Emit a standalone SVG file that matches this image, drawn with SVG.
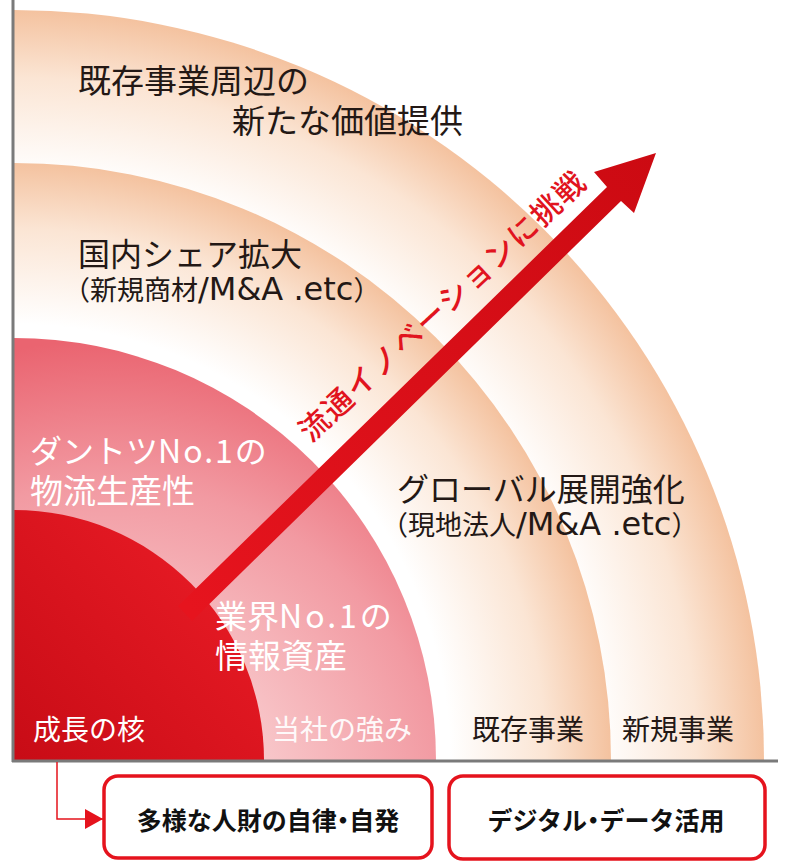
<svg xmlns="http://www.w3.org/2000/svg" width="800" height="863" viewBox="0 0 800 863">
<defs>
<radialGradient id="gPeach4" gradientUnits="userSpaceOnUse" cx="14" cy="760" r="750">
<stop offset="0" stop-color="#ffffff"/>
<stop offset="0.78" stop-color="#ffffff"/>
<stop offset="0.91" stop-color="#fbe5d4"/>
<stop offset="1" stop-color="#f4c29f"/>
</radialGradient>
<radialGradient id="gPeach3" gradientUnits="userSpaceOnUse" cx="14" cy="760" r="597">
<stop offset="0" stop-color="#ffffff"/>
<stop offset="0.73" stop-color="#ffffff"/>
<stop offset="0.89" stop-color="#fbe5d4"/>
<stop offset="1" stop-color="#f4c29f"/>
</radialGradient>
<radialGradient id="gPink" gradientUnits="userSpaceOnUse" cx="110" cy="820" r="480">
<stop offset="0.35" stop-color="#f8c6c9"/>
<stop offset="0.7" stop-color="#f29aa2"/>
<stop offset="1" stop-color="#ea6470"/>
</radialGradient>
<linearGradient id="gRed" gradientUnits="userSpaceOnUse" x1="230" y1="560" x2="20" y2="760">
<stop offset="0" stop-color="#e81b25"/>
<stop offset="1" stop-color="#c80c16"/>
</linearGradient>
<linearGradient id="gArrow" gradientUnits="userSpaceOnUse" x1="190" y1="610" x2="656" y2="153">
<stop offset="0" stop-color="#e6141e"/>
<stop offset="1" stop-color="#cc0a12"/>
</linearGradient>
<marker id="mArrow" markerUnits="userSpaceOnUse" markerWidth="19" markerHeight="20" refX="18" refY="10" orient="auto">
<path d="M0,0 L18,10 L0,20 z" fill="#e5131d"/>
</marker>
<style>
.lbl{font-family:"Noto Sans CJK JP","Noto Sans",sans-serif;fill:#231815;}
.big{font-size:32px;}
.big33{font-size:33px;}
.sub{font-size:27px;}
.lat{font-family:"DejaVu Sans",sans-serif;font-size:32px;}
.wht{fill:#ffffff;}
.base{font-size:28px;}
.box{fill:#ffffff;stroke:#e5131d;stroke-width:3.5;}
.boxt{font-family:"Noto Sans CJK JP","Noto Sans",sans-serif;font-size:25px;font-weight:700;fill:#111111;text-anchor:middle;}
.half{font-feature-settings:"halt";}
</style>
</defs>
<rect width="800" height="863" fill="#ffffff"/>
<g id="ring-new">
<path d="M14,760 L14,10 A750,750 0 0 1 764,760 Z" fill="url(#gPeach4)"/>
<text class="lbl big33" x="78" y="93">既存事業周辺の</text>
<text class="lbl big33" x="232" y="133">新たな価値提供</text>
<text class="lbl base" x="622" y="740">新規事業</text>
</g>
<g id="ring-existing">
<path d="M14,760 L14,163 A597,597 0 0 1 611,760 Z" fill="url(#gPeach3)"/>
<text class="lbl big" x="78" y="266">国内シェア拡大</text>
<text class="lbl sub" x="63" y="300">（新規商材<tspan class="lat">/M&amp;A .etc</tspan>）</text>
<text class="lbl big" x="397" y="501">グローバル展開強化</text>
<text class="lbl sub" x="381" y="535">（現地法人<tspan class="lat">/M&amp;A .etc</tspan>）</text>
<text class="lbl base" x="472" y="740">既存事業</text>
</g>
<g id="ring-strength">
<path d="M14,760 L14,338 A422,422 0 0 1 436,760 Z" fill="url(#gPink)"/>
<text class="lbl big wht" x="30" y="463">ダントツ<tspan letter-spacing="2">No.1</tspan>の</text>
<text class="lbl big33 wht" x="30" y="503">物流生産性</text>
<text class="lbl base wht" x="272" y="740" opacity="0.92">当社の強み</text>
</g>
<g id="core">
<path d="M14,760 L14,510 A250,250 0 0 1 264,760 Z" fill="url(#gRed)"/>
<text class="lbl base wht" x="33" y="740">成長の核</text>
</g>
<g id="growth-arrow">
<polygon points="178,606 192,621 621,201 634,213 656,153 594,172 607,187" fill="url(#gArrow)"/>
<text transform="translate(450,314) rotate(-43)" text-anchor="middle" font-family="'Noto Sans CJK JP','Noto Sans',sans-serif" font-size="30" font-weight="500" letter-spacing="1.7" fill="#e1141e">流通イノベーションに挑戦</text>
</g>
<g id="core-info">
<text class="lbl big wht" x="215" y="628">業界<tspan letter-spacing="3">No.1</tspan>の</text>
<text class="lbl big33 wht" x="215" y="668">情報資産</text>
</g>
<g id="axes" stroke="#7a7a7a" stroke-width="3" fill="none">
<line x1="13" y1="0" x2="13" y2="762"/>
<line x1="12" y1="761" x2="778" y2="761"/>
</g>
<g id="connectors">
<path d="M57,762 V819 H103" fill="none" stroke="#e5131d" stroke-width="1.5" marker-end="url(#mArrow)"/>
</g>
<g id="box-people">
<rect class="box" x="104" y="776" width="328" height="82" rx="14"/>
<text class="boxt" x="268" y="830">多様な人財の自律<tspan class="half">・</tspan>自発</text>
</g>
<g id="box-digital">
<rect class="box" x="449" y="776" width="316" height="83" rx="14"/>
<text class="boxt" x="606" y="830">デジタル<tspan class="half">・</tspan>データ活用</text>
</g>
</svg>
